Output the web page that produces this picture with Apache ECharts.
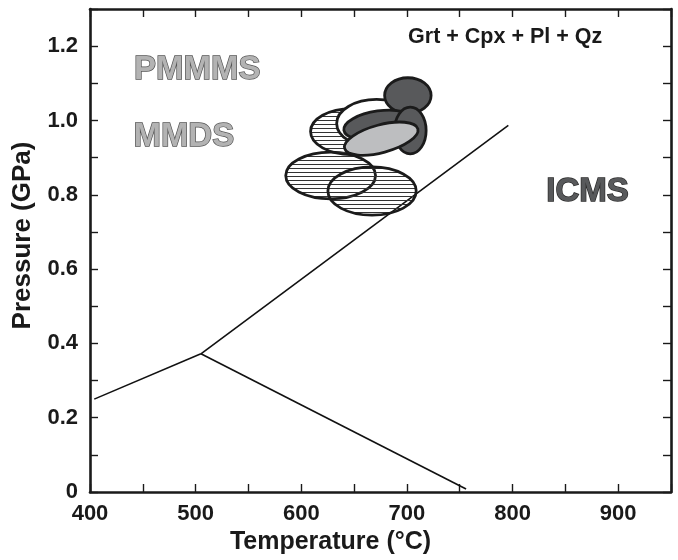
<!DOCTYPE html>
<html>
<head>
<meta charset="utf-8">
<script src="https://cdn.jsdelivr.net/npm/echarts@6/dist/echarts.min.js"></script>
<style>
  html, body { margin: 0; padding: 0; background: #fff; }
  #chart { width: 678px; height: 560px; }
</style>
</head>
<body>
<div id="chart"></div>
<script>
// reaction curves, [T (°C), P (GPa)]
const lineLeft = [[404, 0.25], [505, 0.372]]
const lineUp = [[505, 0.372], [796, 0.987]]
const lineDown = [[505, 0.372], [756, 0.008]]

// P-T ellipses, listed in drawing order (back to front)
const ellipseKind = ['hatch', 'hatch', 'hatch', 'open', 'dark', 'dark', 'dark', 'light']
const ellipseT = [627.8, 667, 647.6, 671.3, 700.9, 674, 703.2, 675.7]
const ellipseP = [0.852, 0.81, 0.97, 0.992, 1.067, 0.987, 0.973, 0.951]
const ellipseHalfT = [42.5, 41.8, 38.8, 37.8, 22, 34, 15, 35.9]
const ellipseHalfP = [0.063, 0.065, 0.062, 0.0645, 0.048, 0.039, 0.063, 0.0374]
const ellipseTilt = [0, 0, 0, 0, 0, 8, 0, 15]

// text labels in the field
const fieldText = ['PMMMS', 'MMDS', 'ICMS', 'Grt + Cpx + Pl + Qz']
const fieldT = [501.6, 488.8, 871, 793]
const fieldP = [1.135, 0.957, 0.8075, 1.2235]

const xLabels = [400, 500, 600, 700, 800, 900]
const yLabels = [0, 0.2, 0.4, 0.6, 0.8, 1.0, 1.2]

const FONT = '"Liberation Sans", Arial, Helvetica, sans-serif'

// horizontal hatch for ellipses
function hatchCanvas() {
  const c = document.createElement('canvas')
  c.width = 4
  c.height = 4
  const g = c.getContext('2d')
  g.fillStyle = '#333'
  g.fillRect(0, 0, 4, 1)
  return c
}
// vertical hatch for the MMDS letters
function letterPattern() {
  const c = document.createElement('canvas')
  c.width = 5
  c.height = 5
  const g = c.getContext('2d')
  g.fillStyle = '#fff'
  g.fillRect(0, 0, 5, 5)
  g.fillStyle = '#666'
  g.fillRect(0, 0, 1, 5)
  return document.createElement('canvas').getContext('2d').createPattern(c, 'repeat')
}

const ellipseStyle = {
  hatch: { fill: { image: hatchCanvas(), repeat: 'repeat' }, stroke: '#1b1b1b', lineWidth: 2.8 },
  open: { fill: '#ffffff', stroke: '#1b1b1b', lineWidth: 2.8 },
  dark: { fill: '#58595b', stroke: '#1b1b1b', lineWidth: 2.8 },
  light: { fill: '#bdbec0', stroke: '#1b1b1b', lineWidth: 2.8 }
}
const textStyle = {
  'PMMMS': { fill: '#b3b3b3', stroke: '#555', lineWidth: 1.4, font: 'bold 33px ' + FONT },
  'MMDS': { fill: letterPattern(), stroke: '#555', lineWidth: 1.4, font: 'bold 33px ' + FONT },
  'ICMS': { fill: '#58595b', stroke: '#2a2a2a', lineWidth: 1.4, font: 'bold 33px ' + FONT },
  'Grt + Cpx + Pl + Qz': { fill: '#1a1a1a', font: 'bold 21.5px ' + FONT }
}

const chart = echarts.init(document.getElementById('chart'))

const axisCommon = {
  type: 'value',
  splitLine: { show: false },
  axisLine: { show: true, onZero: false, lineStyle: { color: '#1a1a1a', width: 2.6 } },
  axisTick: { show: true, inside: true, length: 8, lineStyle: { color: '#1a1a1a', width: 1.4 } }
}

const option = {
  animation: false,
  backgroundColor: '#fff',
  grid: { left: 90, right: 7, top: 9, bottom: 68, outerBoundsMode: 'none' },
  xAxis: [
    Object.assign({}, axisCommon, {
      min: 400, max: 950, interval: 50, position: 'bottom',
      name: 'Temperature (°C)', nameLocation: 'middle', nameGap: 32,
      nameTextStyle: { fontFamily: FONT, fontWeight: 'bold', fontSize: 25, color: '#1a1a1a', padding: [0, 100, 0, 0] },
      axisLabel: {
        margin: 11, fontFamily: FONT, fontWeight: 'bold', fontSize: 22, color: '#1a1a1a',
        formatter: v => (xLabels.indexOf(Math.round(v)) >= 0 ? String(Math.round(v)) : '')
      }
    }),
    Object.assign({}, axisCommon, {
      min: 400, max: 950, interval: 50, position: 'top', axisLabel: { show: false }
    })
  ],
  yAxis: [
    Object.assign({}, axisCommon, {
      min: 0, max: 1.3, interval: 0.1, position: 'left',
      name: 'Pressure (GPa)', nameLocation: 'middle', nameGap: 54,
      nameTextStyle: { fontFamily: FONT, fontWeight: 'bold', fontSize: 26, color: '#1a1a1a', padding: [0, 0, 0, 30] },
      axisLabel: {
        margin: 12, fontFamily: FONT, fontWeight: 'bold', fontSize: 22, color: '#1a1a1a',
        formatter: function (v) {
          const r = Math.round(v * 10) / 10
          const hit = yLabels.some(t => Math.abs(t - r) < 1e-6)
          if (!hit) return ''
          return r === 0 ? '0' : r.toFixed(1)
        }
      }
    }),
    Object.assign({}, axisCommon, {
      min: 0, max: 1.3, interval: 0.1, position: 'right', axisLabel: { show: false }
    })
  ],
  series: [
    { type: 'line', data: lineLeft, showSymbol: false, z: 2, lineStyle: { color: '#111', width: 1.6 } },
    { type: 'line', data: lineUp, showSymbol: false, z: 2, lineStyle: { color: '#111', width: 1.6 } },
    { type: 'line', data: lineDown, showSymbol: false, z: 2, lineStyle: { color: '#111', width: 1.6 } },
    {
      type: 'custom',
      z: 3,
      data: ellipseT.map((t, i) => [t, ellipseP[i], ellipseHalfT[i], ellipseHalfP[i], ellipseTilt[i], i]),
      renderItem: function (params, api) {
        const c = api.coord([api.value(0), api.value(1)])
        const s = api.size([api.value(2), api.value(3)])
        const kind = ellipseKind[api.value(5)]
        return {
          type: 'ellipse',
          shape: { cx: c[0], cy: c[1], rx: s[0], ry: s[1] },
          rotation: api.value(4) * Math.PI / 180,
          originX: c[0],
          originY: c[1],
          style: Object.assign({}, ellipseStyle[kind])
        }
      }
    },
    {
      type: 'custom',
      z: 4,
      data: fieldT.map((t, i) => [t, fieldP[i], i]),
      renderItem: function (params, api) {
        const c = api.coord([api.value(0), api.value(1)])
        const txt = fieldText[api.value(2)]
        return {
          type: 'text',
          x: c[0],
          y: c[1],
          style: Object.assign({ text: txt, align: 'center', verticalAlign: 'middle' }, textStyle[txt])
        }
      }
    }
  ]
}

chart.setOption(option)
</script>
</body>
</html>
